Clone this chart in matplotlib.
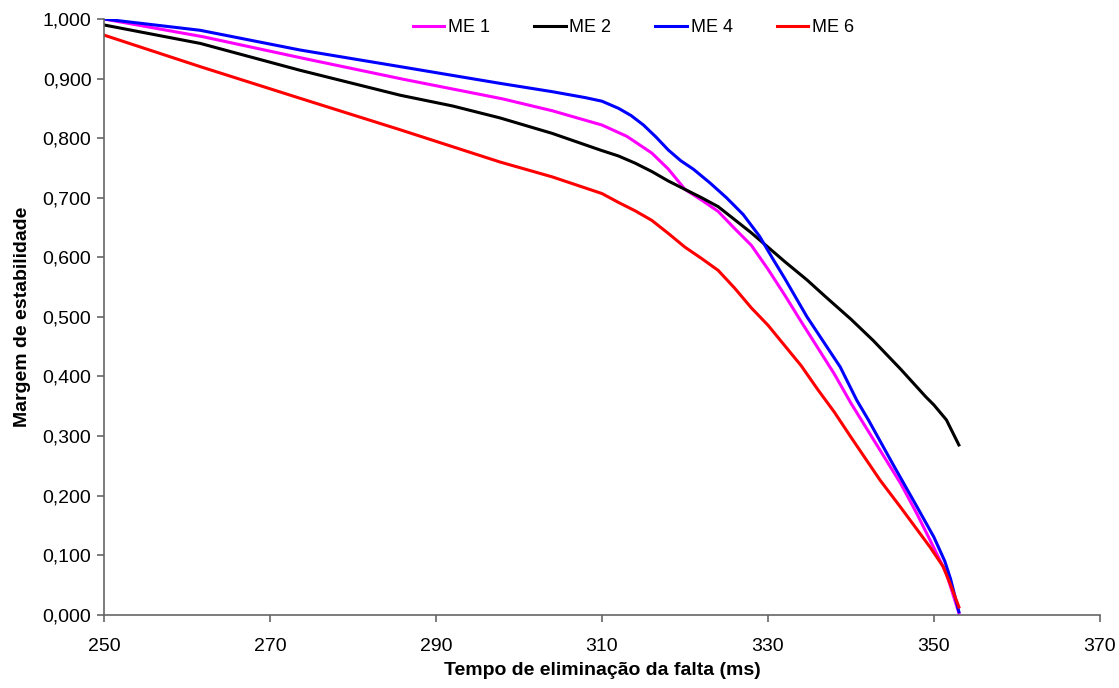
import matplotlib
matplotlib.use("Agg")
import matplotlib.pyplot as plt
from matplotlib.ticker import FuncFormatter, MultipleLocator

plt.rcParams['font.family'] = ['Liberation Sans', 'DejaVu Sans']

# Fault clearing time (ms) and stability margin for each case
t_me1 = [250, 262, 274, 286, 298, 304, 310, 313, 316, 318, 320, 322, 324, 326, 328,
         330, 332, 334, 336, 338, 340, 342, 344, 346, 348, 350, 351.5, 353]
me1 = [1.000, 0.970, 0.934, 0.899, 0.866, 0.846, 0.822, 0.803, 0.775, 0.748, 0.714,
       0.696, 0.677, 0.648, 0.620, 0.580, 0.537, 0.492, 0.448, 0.404, 0.355, 0.310,
       0.265, 0.220, 0.168, 0.112, 0.069, 0.003]

t_me2 = [250, 261.6, 273.6, 285.7, 292, 297.7, 304, 309.8, 312, 314, 316, 318, 320, 322,
         324, 326, 328, 330, 332, 334.7, 337, 340, 342.7, 346, 349, 350, 351.5, 353]
me2 = [0.990, 0.959, 0.914, 0.872, 0.854, 0.834, 0.808, 0.780, 0.770, 0.758, 0.744,
       0.728, 0.714, 0.700, 0.685, 0.663, 0.641, 0.617, 0.593, 0.562, 0.533, 0.496,
       0.460, 0.412, 0.366, 0.352, 0.327, 0.285]

t_me4 = [250, 261.6, 273.6, 285.7, 297.7, 304, 308, 310, 312, 313.5, 315, 316.5, 318,
         319.5, 321, 323, 325, 327, 329, 330.6, 332, 334.7, 336.7, 338.7, 340.7, 342.1,
         345, 348, 350, 351.3, 352, 353]
me4 = [1.000, 0.981, 0.948, 0.920, 0.892, 0.878, 0.868, 0.862, 0.850, 0.838, 0.822,
       0.802, 0.780, 0.762, 0.748, 0.725, 0.700, 0.672, 0.635, 0.597, 0.565, 0.500,
       0.458, 0.416, 0.360, 0.327, 0.254, 0.180, 0.130, 0.090, 0.060, 0.005]

t_me6 = [250, 261.6, 273.6, 285.7, 297.7, 304, 310, 312, 314, 316, 318, 320, 322, 324,
         326, 328, 330, 332, 334, 336, 338, 340, 343.5, 346, 349.5, 351.1, 352, 353]
me6 = [0.973, 0.920, 0.867, 0.814, 0.760, 0.735, 0.707, 0.692, 0.678, 0.662, 0.640,
       0.617, 0.598, 0.578, 0.548, 0.515, 0.486, 0.452, 0.418, 0.378, 0.340, 0.298,
       0.226, 0.180, 0.114, 0.081, 0.050, 0.013]

x_ticks = [250, 270, 290, 310, 330, 350, 370]

series = [
    ("ME 1", t_me1, me1, "#FF00FF"),
    ("ME 2", t_me2, me2, "#000000"),
    ("ME 4", t_me4, me4, "#0000FF"),
    ("ME 6", t_me6, me6, "#FF0000"),
]

fig = plt.figure(figsize=(11.19, 6.88), dpi=100)
ax = fig.add_axes([0.0929, 0.1065, 0.8901, 0.8659])

for name, t, v, c in series:
    ax.plot(t, v, color=c, lw=2.2, label=name, solid_joinstyle='round')

ax.set_xlim(250, 370)
ax.set_ylim(0, 1.0)
ax.set_xticks(x_ticks)
ax.yaxis.set_major_locator(MultipleLocator(0.1))
ax.yaxis.set_major_formatter(FuncFormatter(lambda v, p: f"{v:.3f}".replace('.', ',')))

for s in ['top', 'right']:
    ax.spines[s].set_visible(False)
for s in ['left', 'bottom']:
    ax.spines[s].set_color('#666666')
    ax.spines[s].set_linewidth(1.2)
ax.tick_params(axis='both', direction='out', length=5, width=1.2, color='#666666',
               labelsize=14, labelcolor='black')
ax.tick_params(axis='x', pad=12)
ax.tick_params(axis='y', pad=4)

ax.set_xlabel("Tempo de eliminação da falta (ms)", fontsize=14, fontweight='bold', labelpad=5)
ax.set_ylabel("Margem de estabilidade", fontsize=14, fontweight='bold', labelpad=8)

fig.legend(loc='center', bbox_to_anchor=(0.566, 0.960), ncol=4, frameon=False,
           fontsize=13, handlelength=1.75, handletextpad=0.2, columnspacing=2.45)

fig.savefig("out.png", dpi=100)
